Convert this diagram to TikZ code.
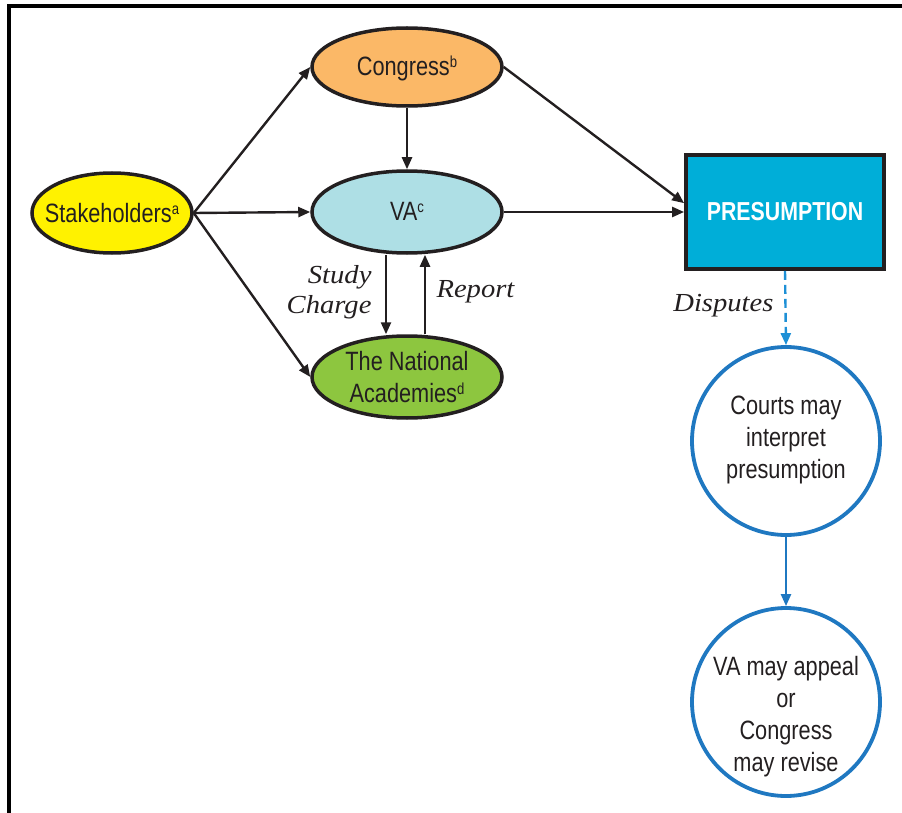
\documentclass[tikz,border=0pt]{standalone}
\usepackage{fontspec}
\newfontfamily\dfont[FakeStretch=0.82]{Liberation Sans}
\newfontfamily\nfont[FakeStretch=1.1]{Liberation Serif}
\usetikzlibrary{shapes.geometric,arrows.meta}
\definecolor{stakeyellow}{HTML}{FFF200}
\definecolor{congorange}{HTML}{FBB867}
\definecolor{vablue}{HTML}{AEDFE5}
\definecolor{nasgreen}{HTML}{8DC63F}
\definecolor{prescyan}{HTML}{00AED8}
\definecolor{courtblue}{HTML}{1F78C1}
\definecolor{dispblue}{HTML}{1E90D6}
\definecolor{inkgray}{HTML}{231F20}
\newcommand{\stacked}[2][0pt]{\raisebox{#1}[0pt][0pt]{\makebox[0pt]{\begin{tabular}{@{}c@{}}#2\end{tabular}}}}
\newcommand{\fnmark}[1]{\raisebox{8pt}{\fontsize{16}{16}\selectfont #1}}
\tikzset{edge/.style={line width=2.4pt,draw=inkgray,-{Triangle[length=12pt,width=10pt]}}}
\tikzset{blob/.style={ellipse,draw=inkgray,line width=3.5pt,inner sep=0pt,minimum width=190pt,minimum height=82pt,text=inkgray,font=\dfont\fontsize{26.5}{32}\selectfont}}
\tikzset{ring/.style={circle,draw=courtblue,line width=3.8pt,inner sep=0pt,minimum size=188pt,text=inkgray,font=\dfont\fontsize{26.5}{32}\selectfont}}
\tikzset{remark/.style={text=inkgray,font=\nfont\itshape\fontsize{26}{30}\selectfont}}

\begin{document}
\begin{tikzpicture}[x=1pt,y=-1pt]
  \useasboundingbox (0,0) rectangle (902,813);
  \draw[line width=3.5pt] (9,813) -- (9,6) -- (902,6);
  \node[blob,fill=stakeyellow,minimum width=160pt,minimum height=80pt] (s) at (112,213) {\stacked[-9pt]{Stakeholders\fnmark{a}}};
  \node[blob,fill=congorange,minimum height=78pt] (c) at (407,67) {\stacked[-8pt]{Congress\fnmark{b}}};
  \node[blob,fill=vablue] (v) at (407,212) {\stacked[-8pt]{VA\fnmark{c}}};
  \node[blob,fill=nasgreen] (n) at (407,377) {\stacked[-9pt]{The National\\Academies\fnmark{d}}};
  \node[rectangle,draw=inkgray,line width=3.8pt,fill=prescyan,minimum width=198pt,minimum height=114pt,text=white,font=\dfont\bfseries\fontsize{26}{32}\selectfont] (p) at (785,212) {PRESUMPTION};
  \node[ring] (ct) at (786,441) {\stacked[-5pt]{Courts may\\interpret\\presumption}};
  \node[ring] (ap) at (786,702) {\stacked[-21pt]{VA may appeal\\or\\Congress\\may revise}};
  \draw[edge] (s.east) -- (c.west);
  \draw[edge] (s.east) -- (v.west);
  \draw[edge] (s.east) -- (n.west);
  \draw[edge] (c.south) -- (v.north);
  \draw[edge] (c.east) -- (p.175);
  \draw[edge] (v.east) -- (p.west);
  \draw[edge] ([xshift=-21pt]v.south) -- ([xshift=-21pt]n.north);
  \draw[edge] ([xshift=18pt]n.north) -- ([xshift=18pt]v.south);
  \draw[edge,draw=dispblue,dash pattern=on 9pt off 5pt] (p.south) -- (ct.north);
  \draw[edge,draw=courtblue] (ct.south) -- (ap.north);
  \node[remark,anchor=east,align=right] (sc) at (375,292) {Study\\Charge};
  \node[remark,anchor=west] (rp) at (433,292) {Report};
  \node[remark,anchor=east] (dp) at (777,306) {Disputes};
\end{tikzpicture}
\end{document}
